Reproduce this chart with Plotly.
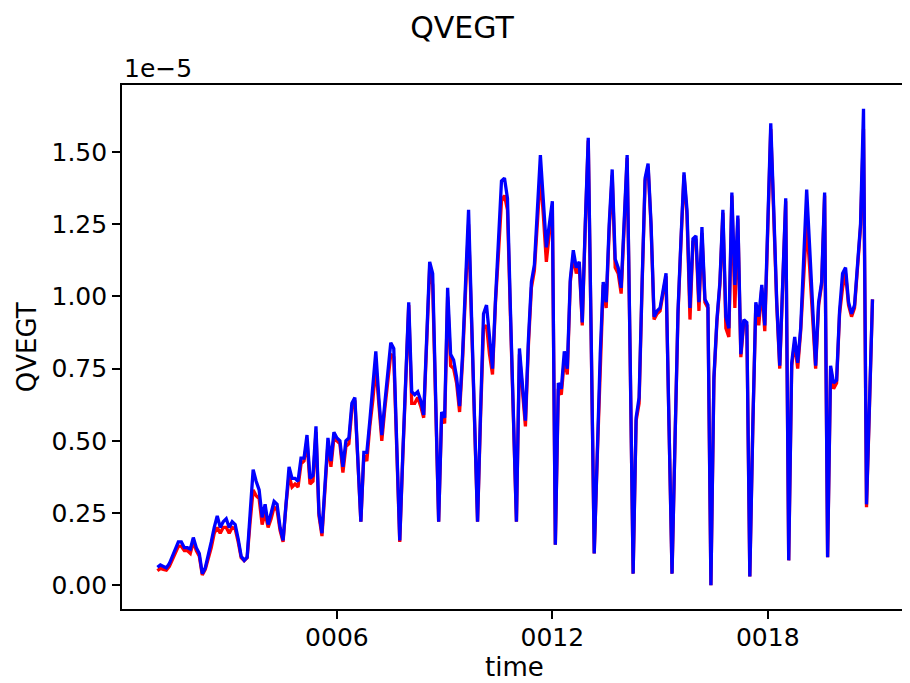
import plotly.graph_objects as go

# QVEGT monthly values (units of 1e-5), years 0001-0020
qvegt_red = [
    0.050, 0.058, 0.055, 0.052, 0.065, 0.090, 0.115, 0.135, 0.135, 0.120, 0.120, 0.110,
    0.150, 0.120, 0.100, 0.035, 0.055, 0.090, 0.130, 0.180, 0.200, 0.180, 0.200, 0.200,
    0.180, 0.200, 0.195, 0.150, 0.095, 0.085, 0.095, 0.220, 0.330, 0.310, 0.300, 0.210,
    0.250, 0.200, 0.230, 0.270, 0.260, 0.190, 0.150, 0.280, 0.380, 0.340, 0.350, 0.340,
    0.420, 0.430, 0.500, 0.350, 0.360, 0.530, 0.240, 0.170, 0.340, 0.490, 0.410, 0.510,
    0.500, 0.490, 0.390, 0.480, 0.490, 0.610, 0.640, 0.440, 0.220, 0.450, 0.430, 0.550,
    0.640, 0.760, 0.620, 0.500, 0.610, 0.720, 0.800, 0.790, 0.470, 0.150, 0.440, 0.710,
    0.970, 0.630, 0.630, 0.650, 0.620, 0.580, 0.830, 1.100, 1.040, 0.640, 0.220, 0.590,
    0.560, 1.000, 0.760, 0.750, 0.700, 0.600, 0.780, 1.020, 1.250, 0.910, 0.540, 0.220,
    0.580, 0.890, 0.900, 0.800, 0.730, 0.980, 1.150, 1.330, 1.350, 1.300, 0.930, 0.570,
    0.220, 0.800, 0.680, 0.550, 0.830, 1.030, 1.090, 1.260, 1.420, 1.280, 1.120, 1.220,
    1.310, 0.140, 0.680, 0.660, 0.780, 0.730, 1.050, 1.140, 1.080, 1.110, 0.900, 1.240,
    1.540, 0.840, 0.110, 0.440, 0.780, 1.040, 0.960, 1.230, 1.420, 1.100, 1.080, 1.010,
    1.240, 1.480, 0.790, 0.040, 0.570, 0.630, 1.040, 1.400, 1.450, 1.240, 0.920, 0.940,
    0.950, 1.010, 1.070, 0.550, 0.040, 0.500, 0.940, 1.190, 1.420, 1.280, 0.920, 1.190,
    1.200, 0.950, 1.220, 0.980, 0.960, 0.000, 0.710, 0.910, 1.040, 1.290, 0.890, 0.860,
    1.350, 0.960, 1.270, 0.790, 0.910, 0.900, 0.030, 0.550, 0.970, 0.900, 1.030, 0.880,
    1.240, 1.580, 1.280, 0.970, 0.750, 1.040, 1.330, 0.086, 0.760, 0.840, 0.750, 0.880,
    1.080, 1.250, 1.100, 0.930, 0.750, 0.970, 1.040, 1.350, 0.097, 0.750, 0.680, 0.700,
    0.940, 1.030, 1.080, 0.970, 0.930, 0.960, 1.090, 1.240, 1.580, 0.270, 0.620, 0.990,
]

qvegt_blue = [
    0.062, 0.070, 0.065, 0.060, 0.075, 0.100, 0.125, 0.150, 0.150, 0.130, 0.130, 0.125,
    0.165, 0.130, 0.110, 0.040, 0.060, 0.100, 0.150, 0.200, 0.240, 0.200, 0.220, 0.230,
    0.200, 0.220, 0.210, 0.160, 0.100, 0.086, 0.097, 0.250, 0.400, 0.360, 0.330, 0.235,
    0.280, 0.210, 0.250, 0.290, 0.280, 0.200, 0.155, 0.290, 0.410, 0.370, 0.370, 0.360,
    0.440, 0.440, 0.520, 0.370, 0.380, 0.550, 0.250, 0.180, 0.350, 0.510, 0.430, 0.530,
    0.510, 0.500, 0.410, 0.500, 0.510, 0.630, 0.650, 0.450, 0.220, 0.460, 0.460, 0.570,
    0.680, 0.810, 0.650, 0.520, 0.630, 0.740, 0.840, 0.820, 0.480, 0.155, 0.450, 0.720,
    0.980, 0.670, 0.660, 0.670, 0.640, 0.590, 0.850, 1.120, 1.080, 0.650, 0.220, 0.600,
    0.580, 1.030, 0.800, 0.780, 0.720, 0.620, 0.800, 1.050, 1.300, 0.930, 0.550, 0.220,
    0.600, 0.940, 0.970, 0.850, 0.750, 0.990, 1.200, 1.400, 1.410, 1.340, 0.950, 0.580,
    0.220, 0.820, 0.700, 0.570, 0.850, 1.050, 1.110, 1.300, 1.490, 1.330, 1.170, 1.250,
    1.330, 0.140, 0.700, 0.680, 0.810, 0.750, 1.060, 1.160, 1.100, 1.120, 0.910, 1.250,
    1.550, 0.850, 0.110, 0.450, 0.800, 1.050, 0.980, 1.250, 1.440, 1.130, 1.100, 1.030,
    1.250, 1.490, 0.800, 0.040, 0.580, 0.650, 1.050, 1.410, 1.460, 1.250, 0.930, 0.950,
    0.960, 1.020, 1.080, 0.550, 0.040, 0.500, 0.950, 1.200, 1.430, 1.300, 0.960, 1.200,
    1.210, 0.980, 1.240, 0.990, 0.970, 0.000, 0.720, 0.920, 1.050, 1.300, 0.930, 0.890,
    1.360, 1.040, 1.280, 0.800, 0.920, 0.910, 0.030, 0.550, 0.980, 0.930, 1.040, 0.900,
    1.250, 1.600, 1.300, 0.980, 0.760, 1.050, 1.340, 0.086, 0.770, 0.860, 0.770, 0.890,
    1.130, 1.370, 1.170, 0.960, 0.760, 0.980, 1.050, 1.360, 0.097, 0.760, 0.700, 0.710,
    0.950, 1.080, 1.100, 0.980, 0.940, 0.970, 1.100, 1.250, 1.650, 0.280, 0.630, 0.990,
]

start_year = 1
n_months = len(qvegt_blue)
time_years = [start_year + i / 12 for i in range(n_months)]

tick_years = [6, 12, 18]
tick_labels = ["0006", "0012", "0018"]
y_ticks = [0.0, 0.25, 0.5, 0.75, 1.0, 1.25, 1.5]

FONT = "DejaVu Sans"
OFF = 8  # browser page margin
W, H = 910 - OFF, 683 - OFF
# plot-area edges in reference pixels, shifted by the page margin
L, R, T, B = 122 - OFF, 908 - OFF, 85 - OFF, 609 - OFF
TICK_SIZE = 25
LABEL_SIZE = 26
TITLE_SIZE = 30

fig = go.Figure()
fig.add_trace(go.Scatter(x=time_years, y=qvegt_red, mode="lines",
                         line=dict(color="#ff0000", width=3.3), showlegend=False))
fig.add_trace(go.Scatter(x=time_years, y=qvegt_blue, mode="lines",
                         line=dict(color="#0000ff", width=3.3), showlegend=False))

fig.update_layout(
    width=W, height=H,
    margin=dict(l=L, r=W - R, t=T, b=H - B, pad=0),
    paper_bgcolor="white", plot_bgcolor="white",
    font=dict(family=FONT, size=TICK_SIZE, color="#000000"),
    title=dict(text="QVEGT", x=(462 - OFF) / W, xref="container", xanchor="center",
               y=1 - (27 - OFF) / H, yref="container", yanchor="middle",
               font=dict(family=FONT, size=TITLE_SIZE, color="#000000")),
    showlegend=False,
)

fig.update_xaxes(
    range=[0.014, 21.85],
    tickmode="array", tickvals=tick_years, ticktext=tick_labels,
    ticks="outside", ticklen=8, tickwidth=1.6, tickcolor="#000000",
    ticklabelstandoff=-3,
    showline=True, linecolor="#000000", linewidth=1.6, mirror=True,
    showgrid=False, zeroline=False,
    tickfont=dict(family=FONT, size=TICK_SIZE, color="#000000"),
)
fig.update_yaxes(
    range=[-0.0825, 1.7325],
    tickmode="array", tickvals=y_ticks, tickformat=".2f",
    ticks="outside", ticklen=8, tickwidth=1.6, tickcolor="#000000",
    showline=True, linecolor="#000000", linewidth=1.6, mirror=True,
    showgrid=False, zeroline=False,
    tickfont=dict(family=FONT, size=TICK_SIZE, color="#000000"),
)

ph = B - T
pw = R - L
fig.add_annotation(text="time", xref="paper", yref="paper",
                   x=0.5, y=(B - (667 - OFF)) / ph, xanchor="center", yanchor="middle",
                   showarrow=False, font=dict(family=FONT, size=LABEL_SIZE, color="#000000"))
fig.add_annotation(text="QVEGT", xref="paper", yref="paper",
                   x=((27 - OFF) - L) / pw, y=0.5, xanchor="center", yanchor="middle",
                   textangle=-90, showarrow=False,
                   font=dict(family=FONT, size=LABEL_SIZE, color="#000000"))
fig.add_annotation(text="1e\u22125", xref="paper", yref="paper",
                   x=0, y=(B - (68 - OFF)) / ph, xanchor="left", yanchor="middle",
                   showarrow=False, font=dict(family=FONT, size=TICK_SIZE, color="#000000"))

fig.write_html("out.html")
